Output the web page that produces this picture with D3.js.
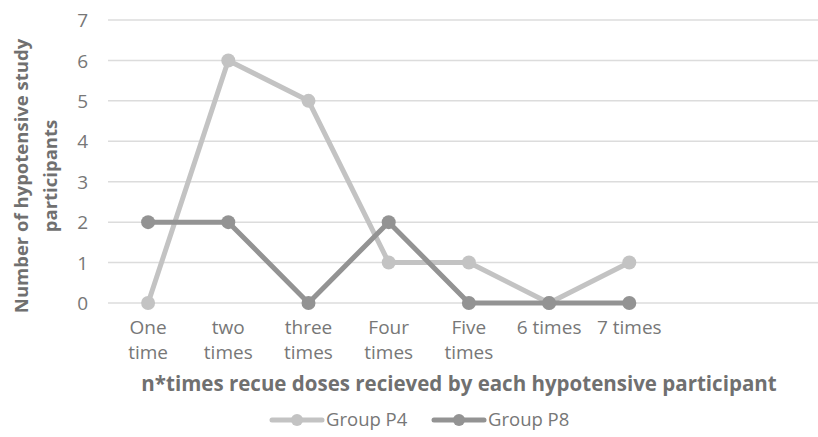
<!DOCTYPE html>
<html><head><meta charset="utf-8">
<script src="https://cdn.jsdelivr.net/npm/d3@7"></script>
<style>body{margin:0;background:#fff}svg{display:block}text{font-family:"Open Sans",sans-serif}</style>
</head><body><svg id="c" width="818" height="437"></svg>
<script>
const categories = ["One time","two times","three times","Four times","Five times","6 times","7 times"];
const categoryLines = [["One","time"],["two","times"],["three","times"],["Four","times"],["Five","times"],["6 times"],["7 times"]];
const groupP4 = [0,6,5,1,1,0,1];
const groupP8 = [2,2,0,2,0,0,0];
const yTicks = [0,1,2,3,4,5,6,7];
const seriesNames = ["Group P4","Group P8"];
const seriesColors = ["#c3c3c3","#939393"];

const svg = d3.select("#c");
const step = 80.2;
const x = d3.scaleBand().domain(categories).range([108, 108 + step*categories.length]);
const y = d3.scaleLinear().domain([0,7]).range([303, 20]);
const cx = d => x(d) + x.bandwidth()/2;

// gridlines
svg.append("g").selectAll("line").data(yTicks).join("line")
  .attr("x1",108).attr("x2",818).attr("y1",d=>y(d)).attr("y2",d=>y(d))
  .attr("stroke","#dcdcdc").attr("stroke-width",1.5);

// y axis labels
const yAxis = d3.axisLeft(y).tickValues(yTicks).tickFormat(d3.format("d")).tickSize(0).tickPadding(0);
const yg = svg.append("g").attr("transform","translate(88,0)").call(yAxis);
yg.select(".domain").remove();
yg.selectAll("text").attr("fill","#777").style("font-size","19px").style("font-family","'Open Sans',sans-serif").attr("dy","0.35em");

// x axis labels
const xg = svg.append("g");
categories.forEach((c,i)=>{
  const t = xg.append("text").attr("x",cx(c)).attr("y",334).attr("text-anchor","middle")
    .attr("fill","#777").style("font-size","19px");
  categoryLines[i].forEach((l,j)=>t.append("tspan").attr("x",cx(c)).attr("dy",j===0?0:25).text(l));
});

// lines
const line = d3.line().x((d,i)=>cx(categories[i])).y(d=>y(d));
[groupP4, groupP8].forEach((s,k)=>{
  svg.append("path").datum(s).attr("d",line).attr("fill","none")
    .attr("stroke",seriesColors[k]).attr("stroke-width",5).attr("stroke-linejoin","round");
  svg.append("g").selectAll("circle").data(s).join("circle")
    .attr("cx",(d,i)=>cx(categories[i])).attr("cy",d=>y(d)).attr("r",7)
    .attr("fill",seriesColors[k]);
});

// axis titles
svg.append("text").attr("x",459).attr("y",391).attr("text-anchor","middle")
  .attr("fill","#707070").style("font-size","20.5px").style("font-weight","bold")
  .text("n*times recue doses recieved by each hypotensive participant");
const yt = svg.append("text").attr("transform","translate(0,176) rotate(-90)")
  .attr("text-anchor","middle").attr("fill","#707070").style("font-size","18.5px").style("font-weight","bold");
yt.append("tspan").attr("x",0).attr("y",28).text("Number of hypotensive study");
yt.append("tspan").attr("x",0).attr("y",57).text("participants");

// legend
const lg = svg.append("g");
const legX = [272, 434];
seriesNames.forEach((n,k)=>{
  lg.append("line").attr("x1",legX[k]).attr("x2",legX[k]+50).attr("y1",420).attr("y2",420)
    .attr("stroke",seriesColors[k]).attr("stroke-width",5).attr("stroke-linecap","round");
  lg.append("circle").attr("cx",legX[k]+25).attr("cy",420).attr("r",6).attr("fill",seriesColors[k]);
  lg.append("text").attr("x",legX[k]+54).attr("y",420).attr("dy","0.35em")
    .attr("fill","#777").style("font-size","18.5px").text(n);
});
</script></body></html>
